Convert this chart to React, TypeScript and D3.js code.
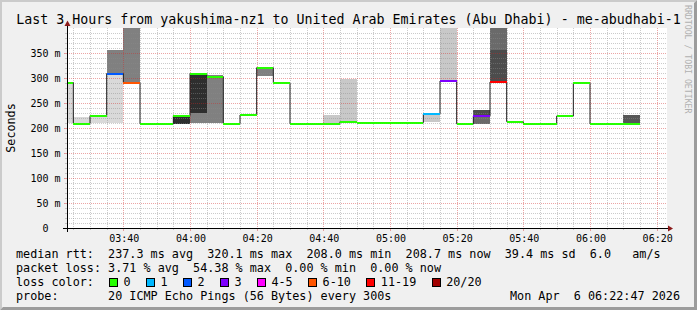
import React from "react";
import * as d3 from "d3";

const W = 697;
const H = 310;

const titleText =
  "Last 3 Hours from yakushima-nz1 to United Arab Emirates (Abu Dhabi) - me-abudhabi-1";

// 5-minute steps, first step starts 03:20 (Apr 6 2026)
const firstStepStart = [2026, 3, 6, 3, 20];
const stepMinutes = 5;

// median rtt per step (ms)
const medianMs = [
  291, 208.7, 224.7, 309, 291, 208.7, 208.7, 224.7, 309, 302.7, 208.3, 226,
  320.7, 290, 208.7, 208.7, 208.7, 212.7, 210.7, 210.7, 210.7, 210.7, 228, 294,
  208.3, 224, 292, 212.7, 208.3, 208.3, 224, 290.7, 208.3, 208.3, 208.3,
];

// loss class index per step (index into lossLabels)
const lossClass = [
  0, 0, 0, 2, 5, 0, 0, 0, 0, 0, 0, 0, 0, 0, 0, 0, 0, 0, 0, 0, 0, 0, 1, 3, 0, 3,
  6, 0, 0, 0, 0, 0, 0, 0, 0,
];

// smoke bands: [step index, low ms, high ms, shade level]
const smokeBands: [number, number, number, number][] = [
  [0, 210, 291, 0],
  [1, 208, 222, 0],
  [2, 210, 225, 0],
  [3, 210, 309, 0],
  [3, 309, 357, 2],
  [4, 291, 420, 2],
  [7, 208, 223, 6],
  [8, 210, 230, 2],
  [8, 230, 309, 6],
  [9, 210, 307, 2],
  [12, 305, 321, 2],
  [15, 208, 211, 0],
  [16, 208, 226, 1],
  [17, 211, 298, 1],
  [22, 212, 228, 1],
  [23, 294, 420, 1],
  [25, 208, 224, 3],
  [25, 224, 236, 5],
  [26, 292, 356, 5],
  [26, 356, 420, 3],
  [34, 208, 226, 4],
];

const lossLabels = ["0", "1", "2", "3", "4-5", "6-10", "11-19", "20/20"];
const yTickValues = [0, 50, 100, 150, 200, 250, 300, 350];

const legendLines = [
  "median rtt:  237.3 ms avg  320.1 ms max  208.0 ms min  208.7 ms now  39.4 ms sd  6.0   am/s",
  "packet loss: 3.71 % avg  54.38 % max  0.00 % min  0.00 % now",
  "loss color:",
  "probe:       20 ICMP Echo Pings (56 Bytes) every 300s",
];
const dateText = "Mon Apr  6 06:22:47 2026";

// ---- styles ----
const lossColors = [
  "#26ff00",
  "#00b8ff",
  "#0059ff",
  "#7e00ff",
  "#ff00ff",
  "#ff5500",
  "#ff0000",
  "#a10000",
];
const shadePalette = [
  "#d9d9d9",
  "#c8c8c8",
  "#808080",
  "#6a6a6a",
  "#575757",
  "#4c4c4c",
  "#2e2e2e",
];
const FONT = "'DejaVu Sans Mono', monospace";

const L = 67,
  R = 667,
  T = 28,
  B = 228;

export default function App() {
  const [yy, mo, dd, hh, mi] = firstStepStart;
  const base = new Date(yy, mo, dd, hh, mi, 0);
  const domStart = new Date(2026, 3, 6, 3, 23, 6);
  const domEnd = new Date(+domStart + 180 * 60000);

  const x = d3.scaleTime().domain([domStart, domEnd]).range([L, R]);
  const y = d3.scaleLinear().domain([0, 400]).range([B, T]);

  const stepT = (i: number) => new Date(+base + i * stepMinutes * 60000);

  const minorH = d3.range(10, 400, 10).filter((v) => v % 50 !== 0);
  const majorH = d3.range(50, 400, 50);
  const allV = d3.timeMinute.every(5)!.range(domStart, domEnd);
  const majorV = allV.filter((d) => d.getMinutes() % 20 === 0);
  const minorV = allV.filter((d) => d.getMinutes() % 20 !== 0);
  const fmt = d3.timeFormat("%H:%M");

  const linePts: [Date, number][] = medianMs.map((m, i) => [stepT(i), m]);
  linePts.push([stepT(medianMs.length), medianMs[medianMs.length - 1]]);
  const stepLine = d3
    .line<[Date, number]>()
    .x((d) => x(d[0]))
    .y((d) => y(d[1]))
    .curve(d3.curveStepAfter)(linePts);

  const minorGrid = "rgba(140,140,140,0.45)";
  const majorGrid = "rgba(210,40,40,0.42)";

  // loss legend positions
  let bx = 108.7;
  const legendBoxes = lossLabels.map((lab, i) => {
    const pos = bx;
    bx += 37 + (lab.length - 1) * 7.09;
    return { lab, pos, color: lossColors[i] };
  });

  return (
    <svg
      width={W}
      height={H}
      style={{ position: "absolute", left: 0, top: 0 }}
      fontFamily={FONT}
    >
      <defs>
        <clipPath id="plotclip">
          <rect x={L} y={T} width={R - L} height={B - T} />
        </clipPath>
      </defs>
      <rect x={0} y={0} width={W} height={H} fill="#f0f0f0" />
      <polygon
        points={`0,0 ${W},0 ${W - 2},2 2,2 2,${H - 2} 0,${H}`}
        fill="#cbcbcb"
      />
      <polygon
        points={`${W},${H} 0,${H} 3,${H - 3} ${W - 3},${H - 3} ${W - 3},3 ${W},0`}
        fill="#9c9c9c"
      />
      <rect x={L} y={T} width={R - L} height={B - T} fill="#ffffff" />

      <g clipPath="url(#plotclip)" shapeRendering="crispEdges">
        {smokeBands.map(([i, lo, hi, lvl], k) => {
          const x0 = Math.max(x(stepT(i)), L);
          const x1 = x(stepT(i + 1));
          return (
            <rect
              key={"s" + k}
              x={x0}
              width={x1 - x0}
              y={y(hi)}
              height={y(lo) - y(hi)}
              fill={shadePalette[lvl]}
            />
          );
        })}
      </g>

      {/* grid */}
      <g shapeRendering="crispEdges">
        {minorH.map((v) => (
          <g key={"mh" + v}>
            <line x1={L} x2={R} y1={Math.round(y(v)) + 0.5} y2={Math.round(y(v)) + 0.5} stroke={minorGrid} strokeDasharray="1,1" />
            <line x1={L - 2} x2={L} y1={Math.round(y(v)) + 0.5} y2={Math.round(y(v)) + 0.5} stroke={minorGrid} />
          </g>
        ))}
        {minorV.map((d) => (
          <g key={"mv" + +d}>
            <line y1={T} y2={B} x1={Math.round(x(d)) + 0.5} x2={Math.round(x(d)) + 0.5} stroke={minorGrid} strokeDasharray="1,1" />
            <line y1={B} y2={B + 2} x1={Math.round(x(d)) + 0.5} x2={Math.round(x(d)) + 0.5} stroke={minorGrid} />
          </g>
        ))}
        {majorH.map((v) => (
          <g key={"Mh" + v}>
            <line x1={L} x2={R} y1={Math.round(y(v)) + 0.5} y2={Math.round(y(v)) + 0.5} stroke={majorGrid} strokeDasharray="1,1" />
            <line x1={L - 3} x2={L} y1={Math.round(y(v)) + 0.5} y2={Math.round(y(v)) + 0.5} stroke={majorGrid} />
          </g>
        ))}
        {majorV.map((d) => (
          <g key={"Mv" + +d}>
            <line y1={T} y2={B} x1={Math.round(x(d)) + 0.5} x2={Math.round(x(d)) + 0.5} stroke={majorGrid} strokeDasharray="1,1" />
            <line y1={B} y2={B + 3} x1={Math.round(x(d)) + 0.5} x2={Math.round(x(d)) + 0.5} stroke={majorGrid} />
          </g>
        ))}
      </g>

      {/* median */}
      <g clipPath="url(#plotclip)">
        <path d={stepLine || ""} fill="none" stroke="#202020" strokeWidth={1} />
        {medianMs.map((m, i) => {
          const x0 = Math.max(x(stepT(i)), L);
          const x1 = x(stepT(i + 1));
          return (
            <rect
              key={"m" + i}
              x={x0}
              width={x1 - x0}
              y={y(m) - 1}
              height={2}
              fill={lossColors[lossClass[i]]}
              shapeRendering="crispEdges"
            />
          );
        })}
      </g>

      {/* axes */}
      <g shapeRendering="crispEdges">
        <line x1={L - 4} x2={R + 2} y1={B + 0.5} y2={B + 0.5} stroke="#000" />
        <line x1={L + 0.5} x2={L + 0.5} y1={B + 4} y2={T - 3} stroke="#000" />
      </g>
      <polygon points={`${L + 0.5},20.5 ${L - 2.5},26 ${L + 3.5},26`} fill="#8b1a1a" />
      <polygon points={`${R + 6},${B + 0.5} ${R + 1},${B - 2.5} ${R + 1},${B + 3.5}`} fill="#8b1a1a" />

      {/* y labels */}
      {yTickValues.map((v) => (
        <text
          key={"yl" + v}
          x={60.5}
          y={y(v) + 3.8}
          textAnchor="end"
          fontSize={10}
          fill="#000"
          style={{ whiteSpace: "pre" }}
        >
          {v === 0 ? "0\u00a0\u00a0" : `${v} m`}
        </text>
      ))}
      {/* x labels */}
      {majorV.map((d) => (
        <text
          key={"xl" + +d}
          x={x(d) + 1}
          y={242}
          textAnchor="middle"
          fontSize={10}
          fill="#000"
        >
          {fmt(d)}
        </text>
      ))}

      <text
        transform={`translate(15,128) rotate(-90)`}
        textAnchor="middle"
        fontSize={11.75}
        fill="#000"
      >
        Seconds
      </text>

      <text
        transform={`translate(685,5) rotate(90)`}
        fontSize={8.2}
        fill="#b0b0b0"
      >
        RRDTOOL / TOBI OETIKER
      </text>

      <text x={348.5} y={24} textAnchor="middle" fontSize={13.3} fill="#000" style={{ whiteSpace: "pre" }}>
        {titleText}
      </text>

      {legendLines.map((s, i) => (
        <text
          key={"lg" + i}
          x={16}
          y={258.3 + i * 14}
          fontSize={11.78}
          fill="#000"
          style={{ whiteSpace: "pre" }}
        >
          {s}
        </text>
      ))}
      {legendBoxes.map((b, i) => (
        <g key={"lb" + i}>
          <rect
            x={Math.round(b.pos) + 0.5}
            y={278.5}
            width={8}
            height={8}
            fill={b.color}
            stroke="#000"
            shapeRendering="crispEdges"
          />
          <text x={b.pos + 14.7} y={286.3} fontSize={11.78} fill="#000">
            {b.lab}
          </text>
        </g>
      ))}
      <text x={680} y={300.3} textAnchor="end" fontSize={11.78} fill="#000" style={{ whiteSpace: "pre" }}>
        {dateText}
      </text>
    </svg>
  );
}
